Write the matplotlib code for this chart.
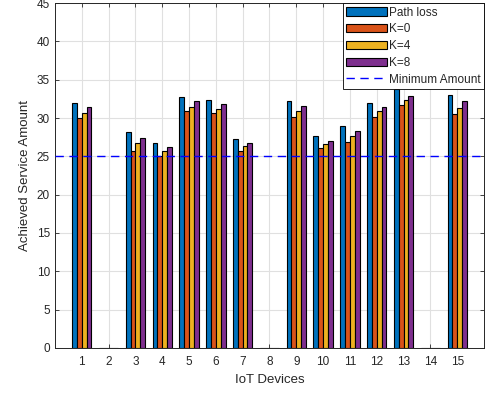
import matplotlib
matplotlib.use("Agg")
import matplotlib.pyplot as plt
import numpy as np

devices = np.arange(1, 16)
path_loss = [32.0, 0, 28.2, 26.8, 32.8, 32.4, 27.3, 0, 32.2, 27.6, 28.9, 32.0, 33.8, 0, 33.0]
k0 = [30.0, 0, 25.7, 25.0, 30.9, 30.7, 25.7, 0, 30.2, 26.1, 26.9, 30.2, 31.7, 0, 30.5]
k4 = [30.7, 0, 26.7, 25.7, 31.5, 31.2, 26.3, 0, 30.9, 26.6, 27.6, 30.9, 32.3, 0, 31.3]
k8 = [31.5, 0, 27.4, 26.2, 32.2, 31.8, 26.8, 0, 31.6, 27.0, 28.3, 31.5, 32.9, 0, 32.2]
min_amount = 25

series = [("Path loss", path_loss, "#0072BD"),
          ("K=0", k0, "#D95319"),
          ("K=4", k4, "#EDB120"),
          ("K=8", k8, "#7E2F8E")]

text_color = "#262626"
plt.rcParams["font.family"] = ["Liberation Sans", "DejaVu Sans"]
plt.rcParams["font.size"] = 8

fig = plt.figure(figsize=(4.86, 3.94), dpi=100)
ax = fig.add_axes([0.113, 0.117, 0.883, 0.875])

width = 0.18
offsets = (np.arange(len(series)) - 1.5) * width
handles = []
for (name, vals, color), off in zip(series, offsets):
    h = ax.bar(devices + off, vals, width, color=color, edgecolor="black",
               linewidth=0.8, label=name, zorder=3)
    handles.append(h)

line = ax.axhline(min_amount, color="blue", linestyle=(0, (6, 4)), linewidth=1.0,
                  label="Minimum Amount", zorder=4)
handles.append(line)

ax.set_xlim(0, 16)
ax.set_ylim(0, 45)
ax.set_xticks(devices)
ax.set_yticks(np.arange(0, 46, 5))
ax.grid(True, color="#e0e0e0", linewidth=0.8, zorder=0)
ax.set_axisbelow(True)
ax.tick_params(direction="in", top=True, right=True, colors=text_color,
               labelsize=8.5, length=3, width=0.6)
ax.tick_params(axis="x", pad=6)
for s in ax.spines.values():
    s.set_color(text_color)
    s.set_linewidth(0.7)

ax.set_xlabel("IoT Devices", fontsize=9.5, color=text_color, labelpad=4)
ax.set_ylabel("Achieved Service Amount", fontsize=9.5, color=text_color, labelpad=4)

leg = ax.legend(handles=handles, loc="upper right", fontsize=8.5,
                handlelength=3.4, handleheight=0.7, handletextpad=0.2,
                borderaxespad=0.0, borderpad=0.3, labelspacing=0.4,
                fancybox=False, framealpha=1, edgecolor="black")
leg.get_frame().set_linewidth(0.6)
for t in leg.get_texts():
    t.set_color(text_color)

fig.savefig("out.png", dpi=100)
